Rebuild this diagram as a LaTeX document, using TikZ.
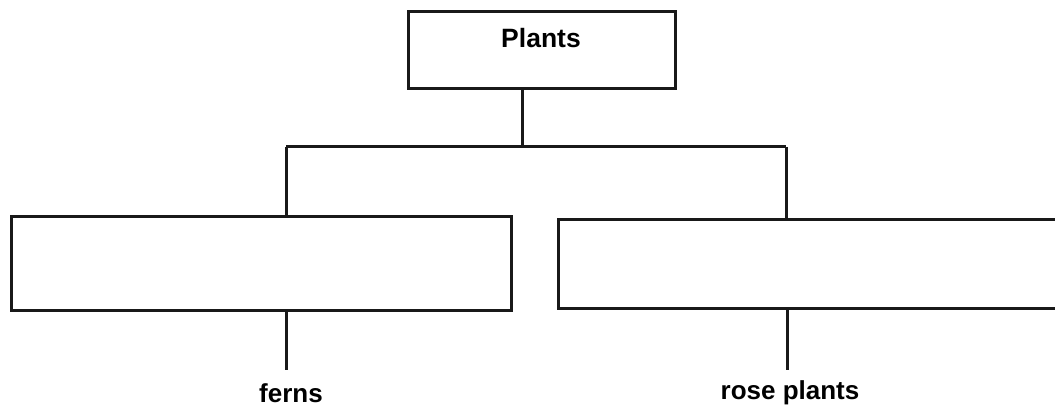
\documentclass[tikz,border=0pt]{standalone}
\usepackage{fontspec}
\setmainfont{Liberation Sans}
\begin{document}
\begin{tikzpicture}[x=1pt,y=-1pt,
  boxst/.style={draw=black!90, line width=3pt, rectangle, inner sep=0pt, outer sep=0pt, fill=white},
  conn/.style={draw=black!90, line width=3pt},
  lbl/.style={font=\fontsize{26}{30}\selectfont\bfseries, inner sep=0pt}]
\useasboundingbox (0,0) rectangle (1055,414);
\clip (0,0) rectangle (1055,414);
\fill[white] (0,0) rectangle (1055,414);
% boxes
\node[boxst, minimum width=267pt, minimum height=77pt] (plants) at (541.5,50.5) {};
\node[lbl, font=\fontsize{26.5}{30}\selectfont\bfseries] (plantstxt) at (541,38) {Plants};
\node[boxst, minimum width=500pt, minimum height=93pt] (left) at (261,263.5) {};
\node[boxst, minimum width=517pt, minimum height=88pt] (right) at (816.5,264) {};
% junctions
\coordinate (hub) at (522,147);
\coordinate (lj) at (286,147);
\coordinate (rj) at (786,147);
\coordinate (lend) at (286,370);
\coordinate (rend) at (787,370);
% labels
\node[lbl] (ferns) at (291,393) {ferns};
\node[lbl] (rose) at (790,393) {rose plants};
% connectors
\draw[conn] (plants.south -| hub) -- (hub);
\draw[conn] (lj) -- (rj);
\draw[conn] (lj) -- (left.north -| lj);
\draw[conn] (rj) -- (right.north -| rj);
\draw[conn] (left.south -| lend) -- (lend);
\draw[conn] (right.south -| rend) -- (rend);
\end{tikzpicture}
\end{document}
